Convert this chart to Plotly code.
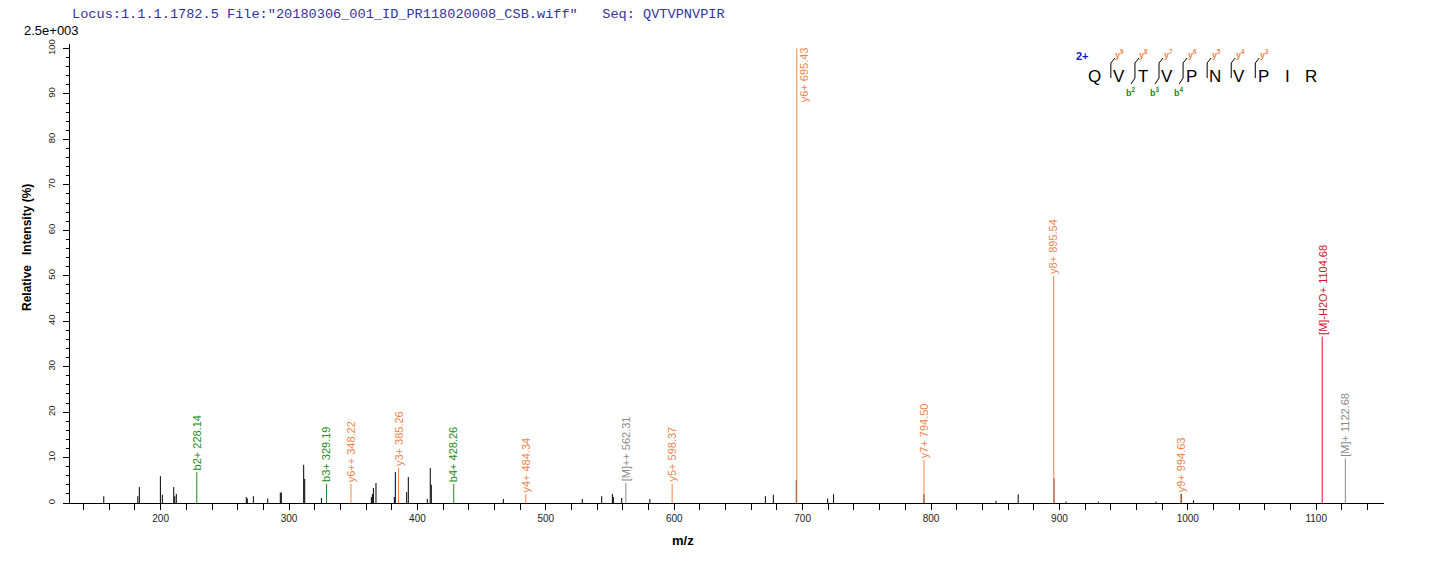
import plotly.graph_objects as go

# ---------------- data ----------------
black_mz = [155.7, 182.2, 183.4, 199.8, 201.3, 210.2, 211.0, 212.2, 266.7, 267.5,
            272.2, 283.4, 293.2, 294.0, 311.4, 312.2, 325.2, 364.1, 364.9, 365.7,
            367.7, 382.0, 382.8, 391.6, 392.9, 407.7, 410.0, 410.8, 466.9, 528.4,
            543.5, 551.8, 552.6, 559.1, 581.0, 671.0, 677.2, 695.1, 719.5, 724.1,
            794.5, 850.6, 867.9, 895.7, 905.1, 930.4, 975.2, 994.9, 1004.4]
black_int = [1.5, 1.5, 3.5, 5.9, 1.8, 3.5, 1.5, 2.0, 1.3, 1.0,
             1.5, 1.0, 2.3, 2.3, 8.4, 5.3, 1.1, 1.3, 2.0, 3.3,
             4.4, 1.3, 6.8, 2.4, 5.7, 0.9, 7.7, 4.0, 0.9, 0.9,
             1.5, 2.0, 1.3, 1.1, 0.9, 1.5, 1.8, 5.1, 1.0, 1.9,
             1.9, 0.5, 1.9, 5.4, 0.3, 0.3, 0.3, 2.0, 0.6]

ion_mz = [228.14, 329.19, 348.22, 385.26, 428.26, 484.34, 562.31, 598.37,
          695.43, 794.50, 895.54, 994.63, 1104.68, 1122.68]
ion_int = [6.8, 4.2, 4.2, 7.7, 4.2, 1.9, 4.4, 4.2,
           100.0, 9.5, 50.0, 2.0, 36.6, 9.8]
ion_label = ["b2+ 228.14", "b3+ 329.19", "y6++ 348.22", "y3+ 385.26", "b4+ 428.26",
             "y4+ 484.34", "[M]++ 562.31", "y5+ 598.37", "y6+ 695.43", "y7+ 794.50",
             "y8+ 895.54", "y9+ 994.63", "[M]-H2O+ 1104.68", "[M]+ 1122.68"]
ion_kind = ["b", "b", "y", "y", "b", "y", "M", "y", "y", "y", "y", "y", "W", "M"]

sequence = list("QVTVPNVPIR")
y_cuts = [1, 2, 3, 4, 5, 6, 7]     # cleavage sites carrying y ions
b_cuts = [2, 3, 4]                 # cleavage sites carrying b ions

title_text = 'Locus:1.1.1.1782.5 File:"20180306_001_ID_PR118020008_CSB.wiff"   Seq: QVTVPNVPIR'
scale_text = "2.5e+003"
x_title = "m/z"
y_title = "Relative   Intensity (%)"

# ---------------- style ----------------
COL = {"y": "#f0844a", "b": "#228b22", "M": "#8a8a8a", "W": "#d2122c"}
FONT = "Arial, Liberation Sans, sans-serif"
W, H = 1436, 562
OFF = 8                       # page body margin
L, R, T, B = 70, 1384, 44, 503  # plot area in page pixels
XR = [129.4, 1152.8]
YR = [0, 101]


def px(x):
    return (x - L) / (R - L)


def py(y):
    return (B - y) / (B - T)


def stems(xs, ys):
    X, Y = [], []
    for a, b in zip(xs, ys):
        X += [a, a, None]
        Y += [0, b, None]
    return X, Y


fig = go.Figure()
bx, by = stems(black_mz, black_int)
fig.add_trace(go.Scatter(x=bx, y=by, mode="lines", line=dict(color="black", width=1),
                         hoverinfo="skip", showlegend=False))
for kind in ["b", "y", "M", "W"]:
    xs = [m for m, k in zip(ion_mz, ion_kind) if k == kind]
    ys = [v for v, k in zip(ion_int, ion_kind) if k == kind]
    sx, sy = stems(xs, ys)
    fig.add_trace(go.Scatter(x=sx, y=sy, mode="lines", line=dict(color=COL[kind], width=1),
                             hoverinfo="skip", showlegend=False))

ann = []
for m, v, lab, k in zip(ion_mz, ion_int, ion_label, ion_kind):
    if v > 88:
        ann.append(dict(x=m, y=YR[1], xref="x", yref="y", text=lab, textangle=-90,
                        showarrow=False, xanchor="center", yanchor="top", xshift=7, yshift=-1,
                        font=dict(family=FONT, size=11, color=COL[k])))
    else:
        ann.append(dict(x=m, y=v, xref="x", yref="y", text=lab, textangle=-90,
                        showarrow=False, xanchor="center", yanchor="bottom", yshift=0,
                        font=dict(family=FONT, size=11, color=COL[k])))

# header texts
ann.append(dict(x=px(70), y=py(15), xref="paper", yref="paper", text=title_text.replace(" ", "\u00a0"),
                showarrow=False, xanchor="left", yanchor="middle",
                font=dict(family="Liberation Mono, Courier New, monospace", size=13.6, color="#3232a0")))
ann.append(dict(x=px(22), y=py(31), xref="paper", yref="paper", text=scale_text,
                showarrow=False, xanchor="left", yanchor="middle",
                font=dict(family=FONT, size=13, color="black")))
ann.append(dict(x=px(27), y=py(248), xref="paper", yref="paper",
                text="<b>" + y_title.replace(" ", "\u00a0") + "</b>", textangle=-90,
                showarrow=False, xanchor="center", yanchor="middle",
                font=dict(family=FONT, size=12, color="black")))
ann.append(dict(x=px(683), y=py(540), xref="paper", yref="paper", text="<b>" + x_title + "</b>",
                showarrow=False, xanchor="center", yanchor="middle",
                font=dict(family=FONT, size=13, color="black")))

# sequence decoration
x0, step = 1094.8, 24.07
letter_x = [x0 + i * step for i in range(len(sequence))]
for xx, ch in zip(letter_x, sequence):
    ann.append(dict(x=px(xx), y=py(76), xref="paper", yref="paper", text=ch, showarrow=False,
                    xanchor="center", yanchor="middle",
                    font=dict(family=FONT, size=17, color="black")))
ann.append(dict(x=px(1082), y=py(56), xref="paper", yref="paper", text="<b>2+</b>", showarrow=False,
                xanchor="center", yanchor="middle", font=dict(family=FONT, size=11, color="#1414c8")))

shapes = []
n = len(sequence)
for c in sorted(set(y_cuts) | set(b_cuts)):
    cx = letter_x[c] - 8
    shapes.append(dict(type="line", xref="paper", yref="paper", x0=px(cx), x1=px(cx),
                       y0=py(63), y1=py(78), line=dict(color="black", width=1)))
    if c in y_cuts:
        shapes.append(dict(type="line", xref="paper", yref="paper", x0=px(cx), x1=px(cx + 4),
                           y0=py(63), y1=py(58), line=dict(color="black", width=1)))
        ann.append(dict(x=px(letter_x[c] + 1), y=py(54), xref="paper", yref="paper",
                        text="<b>y<sup>%d</sup></b>" % (n - c), showarrow=False,
                        xanchor="center", yanchor="middle",
                        font=dict(family=FONT, size=9, color=COL["y"])))
    if c in b_cuts:
        shapes.append(dict(type="line", xref="paper", yref="paper", x0=px(cx), x1=px(cx - 4),
                           y0=py(78), y1=py(84), line=dict(color="black", width=1)))
        ann.append(dict(x=px(cx - 4), y=py(92), xref="paper", yref="paper",
                        text="<b>b<sup>%d</sup></b>" % c, showarrow=False,
                        xanchor="center", yanchor="middle",
                        font=dict(family=FONT, size=9, color=COL["b"])))

fig.update_layout(
    width=W, height=H,
    margin=dict(l=L - OFF, r=W + OFF - R, t=T - OFF, b=H + OFF - B, pad=0),
    paper_bgcolor="white", plot_bgcolor="white",
    showlegend=False,
    annotations=ann, shapes=shapes,
    xaxis=dict(range=XR, showgrid=False, zeroline=False, showline=True, linecolor="black",
               linewidth=1, ticks="outside", ticklen=6, tickcolor="black", dtick=100, tick0=0,
               tickfont=dict(family=FONT, size=10, color="#222"),
               minor=dict(dtick=20, tick0=0, ticks="outside", ticklen=6, tickcolor="black",
                          showgrid=False)),
    yaxis=dict(range=YR, showgrid=False, zeroline=False, showline=True, linecolor="black",
               linewidth=1, ticks="outside", ticklen=6, tickcolor="black", dtick=10, tick0=0,
               tickangle=-90, ticklabelstandoff=4,
               tickfont=dict(family=FONT, size=9.5, color="#222"),
               minor=dict(dtick=2, tick0=0, ticks="outside", ticklen=3, tickcolor="black",
                          showgrid=False)),
)

fig.write_html("out.html")
